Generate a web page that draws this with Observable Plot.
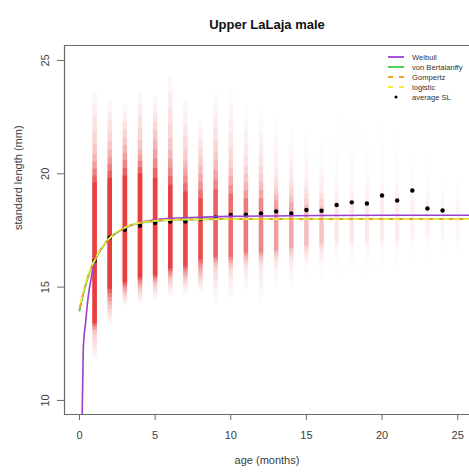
<!DOCTYPE html>
<html><head><meta charset="utf-8">
<script src="https://cdn.jsdelivr.net/npm/d3@7"></script>
<script src="https://cdn.jsdelivr.net/npm/@observablehq/plot@0.6"></script>
<style>body{margin:0;background:#fff}#chart svg{display:block}</style>
</head><body><div id="chart"></div>
<script>
const title = "Upper LaLaja male";
const xLabel = "age (months)";
const yLabel = "standard length (mm)";
const xTicks = [0, 5, 10, 15, 20, 25];
const yTicks = [10, 15, 20, 25];
const xDomain = [-0.99, 25.78];
const yDomain = [9.38, 25.66];

// simulated SL clouds per age (mm): core, spread and outer extents, relative density
const ages    = [1,2,3,4,5,6,7,8,9,10,11,12,13,14,15,16,17,18,19,20,21,22,23,24,25];
const coreLo  = [13.4,14.9,15.2,15.4,15.5,15.8,15.9,16.2,16.3,16.3,16.5,16.5,16.6,16.7,16.8,16.9,17.0,17.0,17.0,17.1,17.1,17.1,17.2,17.2,17.2];
const coreHi  = [19.6,19.8,19.9,20.0,19.8,19.5,19.2,18.9,19.3,19.1,18.9,18.9,18.8,18.7,18.6,18.6,18.8,18.8,18.8,18.8,18.8,18.8,18.8,18.8,18.8];
const sprLo   = [13.0,14.1,14.7,14.9,15.1,15.3,15.3,15.4,15.8,15.7,15.9,15.9,16.0,16.0,16.2,16.2,16.4,16.4,16.5,16.5,16.5,16.6,16.6,16.6,16.6];
const sprHi   = [21.0,21.2,21.4,21.2,21.7,21.2,20.8,20.5,21.2,20.8,20.5,20.5,20.0,20.0,19.8,19.8,20.0,20.0,20.0,20.0,20.0,20.0,19.8,19.8,19.8];
const outLo   = [11.8,13.4,14.2,14.3,14.4,14.6,14.7,14.8,14.3,14.5,14.8,14.3,15.0,15.0,15.5,15.2,15.4,15.5,15.5,15.6,15.6,15.6,15.7,15.7,15.7];
const outHi   = [23.6,23.2,23.0,23.6,23.4,24.3,23.2,22.3,23.5,23.7,23.0,22.8,22.5,22.0,22.0,21.5,22.8,22.5,22.0,22.4,22.0,21.8,21.5,21.2,21.0];
const density = [1,1,1,1,0.97,0.95,0.9,0.85,0.68,0.6,0.52,0.46,0.34,0.3,0.22,0.18,0.07,0.06,0.06,0.05,0.05,0.04,0.04,0.03,0.03];

// average SL per age
const avgAges = [1,2,3,4,5,6,7,8,9,10,11,12,13,14,15,16,17,18,19,20,21,22,23,24];
const avgSL   = [16.15,17.19,17.53,17.71,17.83,17.89,17.9,18.0,18.07,18.18,18.2,18.25,18.34,18.25,18.4,18.37,18.62,18.74,18.69,19.04,18.82,19.26,18.47,18.38];

// fitted growth curves
const curveAges   = [0,0.25,0.5,0.75,1,1.5,2,2.5,3,4,5,6,8,10,13,16,20,26];
const vonBert     = [13.96,14.7,15.3,15.8,16.17,16.76,17.16,17.43,17.62,17.83,17.92,17.96,17.99,18.0,18.0,18.0,18.0,18.0];
const gompertz    = [14.05,14.75,15.35,15.82,16.17,16.75,17.15,17.43,17.62,17.84,17.93,17.97,17.99,18.0,18.0,18.0,18.0,18.0];
const logistic    = [14.1,14.8,15.4,15.85,16.2,16.78,17.17,17.45,17.63,17.84,17.93,17.97,17.99,18.0,18.0,18.0,18.0,18.0];
const weibullAges = [0.17,0.2,0.22,0.25,0.3,0.4,0.5,0.6,0.75,0.9,1,1.5,2,3,4,5,6,8,10,13,16,20,26];
const weibull     = [9.0,10.3,11.0,12.2,12.8,13.4,14.1,14.7,15.3,15.85,16.1,16.75,17.15,17.6,17.85,17.97,18.03,18.08,18.12,18.14,18.16,18.17,18.17];

const legendLabels = ["Weibull", "von Bertalanffy", "Gompertz", "logistic", "average SL"];

const colors = {weibull: "#9b3fd1", vb: "#3ccf3c", gomp: "#f0a030", logi: "#f0ee3a", red: "#e41a1c", axis: "#6a6a6a", text: "#404040"};

// layered cloud rows: interpolate from outer extent -> spread -> core
const layerOps = [0.04, 0.04, 0.05, 0.06, 0.08, 0.1, 0.14, 0.2, 0.3, 0.5];
const lerp = (a, b, t) => a + (b - a) * t;
const cloud = [];
layerOps.forEach((op, k) => {
  const s = k / (layerOps.length - 1);
  ages.forEach((a, i) => {
    let lo, hi;
    if (s <= 0.5) {
      lo = lerp(outLo[i], sprLo[i], s / 0.5); hi = lerp(outHi[i], sprHi[i], s / 0.5);
    } else {
      lo = lerp(sprLo[i], coreLo[i], (s - 0.5) / 0.5); hi = lerp(sprHi[i], coreHi[i], (s - 0.5) / 0.5);
    }
    cloud.push({age: a, lo, hi, op: op * density[i]});
  });
});

const rows = (xs, ys) => xs.map((x, i) => ({x, y: ys[i]}));

const plot = Plot.plot({
  width: 469, height: 475,
  marginLeft: 64, marginRight: 0, marginTop: 45, marginBottom: 61,
  x: {domain: xDomain},
  y: {domain: yDomain},
  style: {fontFamily: "'Liberation Sans', Arial, sans-serif", background: "#fff", color: colors.text},
  marks: [
    Plot.ruleX(cloud, {x: "age", y1: "lo", y2: "hi", stroke: colors.red, strokeWidth: 4.5, strokeOpacity: "op"}),
    Plot.dot(rows(avgAges, avgSL), {x: "x", y: "y", r: 2.2, fill: "#000", stroke: null}),
    Plot.line(rows(weibullAges, weibull), {x: "x", y: "y", stroke: colors.weibull, strokeWidth: 1.6, curve: "monotone-x", clip: true}),
    Plot.line(rows(curveAges, vonBert), {x: "x", y: "y", stroke: colors.vb, strokeWidth: 1.8, curve: "monotone-x"}),
    Plot.line(rows(curveAges, gompertz), {x: "x", y: "y", stroke: colors.gomp, strokeWidth: 1.6, strokeDasharray: "5,5", curve: "monotone-x"}),
    Plot.line(rows(curveAges, logistic), {x: "x", y: "y", stroke: colors.logi, strokeWidth: 1.6, strokeDasharray: "5,5", strokeDashoffset: 5, curve: "monotone-x"}),
    Plot.ruleY([yDomain[0]], {stroke: colors.axis, strokeWidth: 1.2}),
    Plot.ruleY([yDomain[1]], {stroke: colors.axis, strokeWidth: 1.2}),
    Plot.ruleX([xDomain[0]], {stroke: colors.axis, strokeWidth: 1.2}),
    Plot.axisX({ticks: xTicks, tickSize: 6, tickPadding: 11, fontSize: 11, stroke: colors.axis, label: null}),
    Plot.axisY({ticks: yTicks, tickSize: 7, tickFormat: () => "", stroke: colors.axis, label: null}),
    Plot.text(yTicks, {y: d => d, text: d => String(d), frameAnchor: "left", dx: -19.5, rotate: -90, fontSize: 11, textAnchor: "middle"}),
    Plot.text([title], {frameAnchor: "top", dy: -26, fontSize: 13, fontWeight: "bold", fill: "#111"}),
    Plot.text([xLabel], {frameAnchor: "bottom", dy: 49, fontSize: 11}),
    Plot.text([yLabel], {frameAnchor: "left", dx: -46, rotate: -90, fontSize: 11})
  ]
});

// legend (top right, as in the R figure)
const svg = d3.select(plot);
const lg = svg.append("g").attr("font-family", "'Liberation Sans', Arial, sans-serif")
  .attr("font-size", 7.6).attr("fill", "#333").attr("text-anchor", "start");
const legendStyle = [
  {stroke: colors.weibull, dash: null},
  {stroke: colors.vb, dash: null},
  {stroke: colors.gomp, dash: "5,6"},
  {stroke: colors.logi, dash: "5,6"},
  {dot: true}
];
legendLabels.forEach((lab, i) => {
  const y = 57 + i * 10;
  const s = legendStyle[i];
  if (s.dot) {
    lg.append("circle").attr("cx", 396).attr("cy", y).attr("r", 1.5).attr("fill", "#000");
  } else {
    lg.append("line").attr("x1", 388).attr("x2", 404).attr("y1", y).attr("y2", y)
      .attr("stroke", s.stroke).attr("stroke-width", 1.8).attr("stroke-dasharray", s.dash);
  }
  lg.append("text").attr("x", 412).attr("y", y).attr("dy", "0.35em").attr("text-anchor", "start").text(lab);
});

document.getElementById("chart").append(plot);
</script>
</body></html>
